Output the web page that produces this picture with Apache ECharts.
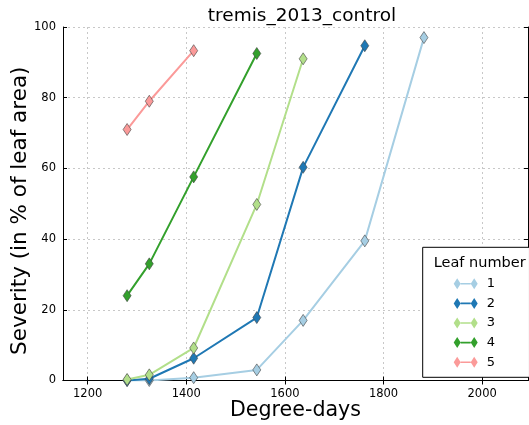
<!DOCTYPE html>
<html><head><meta charset="utf-8">
<script src="https://cdn.jsdelivr.net/npm/echarts@6/dist/echarts.min.js"></script>
<style>html,body{margin:0;padding:0;background:#fff}#c{width:529px;height:425px}</style>
</head><body><div id="c"></div>
<script>
var degreeDays = [1280, 1325, 1415, 1543, 1637, 1762, 1882];
var leaf1 = [0, 0, 0.8, 3, 17, 39.5, 97];
var leaf2 = [0, 0.5, 6.3, 17.8, 60.3, 94.7];
var leaf3 = [0.3, 1.6, 9.2, 49.8, 91];
var leaf4 = [24, 33, 57.6, 92.5];
var leaf5 = [71, 79, 93.3];
var leafNames = ['1', '2', '3', '4', '5'];
var leafColors = ['#a6cee3', '#1f78b4', '#b2df8a', '#33a02c', '#fb9a99'];
var xTicks = [1200, 1400, 1600, 1800, 2000];
var yTicks = [0, 20, 40, 60, 80, 100];

var allLeaves = [leaf1, leaf2, leaf3, leaf4, leaf5];
var FONT = 'DejaVu Sans';
var icon = 'path://M0,5.5L3.5,0L7,5.5L3.5,11ZM7,4.7L17,4.7L17,6.3L7,6.3ZM17,5.5L20.5,0L24,5.5L20.5,11Z';

var series = allLeaves.map(function (vals, i) {
  return {
    name: leafNames[i],
    type: 'line',
    data: vals.map(function (v, j) { return [degreeDays[j], v]; }),
    symbol: 'diamond',
    symbolSize: [8, 12],
    lineStyle: { color: leafColors[i], width: 2 },
    itemStyle: { color: leafColors[i], borderColor: '#444', borderWidth: 0.6 },
    emphasis: { disabled: true },
    animation: false,
    z: 2 + i
  };
});
function noComma(v) { return String(v); }

var chart = echarts.init(document.getElementById('c'), null, { renderer: 'canvas' });
chart.setOption({
  backgroundColor: '#fff',
  animation: false,
  title: [
    { text: 'tremis_2013_control', left: 297, textAlign: 'center', top: 2,
      textStyle: { fontFamily: FONT, fontSize: 18.5, fontWeight: 'normal', color: '#000' } },
    { text: 'Leaf number', left: 474.7, textAlign: 'center', top: 251, z: 10,
      textStyle: { fontFamily: FONT, fontSize: 14.5, fontWeight: 'normal', color: '#000' } }
  ],
  grid: { left: 63, top: 27, right: 1, bottom: 44.5, containLabel: false, outerBoundsMode: 'none' },
  legend: {
    orient: 'vertical', left: 422.7, top: 247.3,
    padding: [30, 34.5, 8.6, 31],
    itemWidth: 24, itemHeight: 11, itemGap: 6.6,
    borderColor: '#000', borderWidth: 1, backgroundColor: '#fff',
    data: leafNames.map(function (n) { return { name: n, icon: icon }; }),
    itemStyle: { borderWidth: 0 },
    textStyle: { fontFamily: FONT, fontSize: 13, color: '#000', padding: [0, 0, 0, 4] },
    selectedMode: false
  },
  xAxis: [{
    type: 'value', min: 1150, max: 2093,
    name: 'Degree-days', nameLocation: 'middle', nameGap: 20, nameMoveOverlap: false,
    nameTextStyle: { fontFamily: FONT, fontSize: 20.6, color: '#000' },
    axisLine: { show: true, lineStyle: { color: '#000', width: 1 } },
    axisTick: { show: true, inside: true, length: 4, customValues: xTicks, lineStyle: { color: '#000' } },
    axisLabel: { customValues: xTicks, formatter: noComma, fontFamily: FONT, fontSize: 11.5, color: '#000', margin: 8 },
    splitLine: { show: true, lineStyle: { color: '#c8c8c8', type: [2, 3], width: 1 } }
  }, {
    type: 'value', min: 1150, max: 2093, position: 'top',
    axisLine: { show: true, lineStyle: { color: '#000', width: 1 } },
    axisTick: { show: true, inside: true, length: 4, customValues: xTicks, lineStyle: { color: '#000' } },
    axisLabel: { show: false, customValues: xTicks },
    splitLine: { show: false }
  }],
  yAxis: [{
    type: 'value', min: 0, max: 100, interval: 20,
    name: 'Severity (in % of leaf area)', nameLocation: 'middle', nameGap: 31.5, nameMoveOverlap: false,
    nameTextStyle: { fontFamily: FONT, fontSize: 21.5, color: '#000', padding: [0, 14, 0, 0] },
    axisLine: { show: true, lineStyle: { color: '#000', width: 1 } },
    axisTick: { show: true, inside: true, length: 4, lineStyle: { color: '#000' } },
    axisLabel: { formatter: noComma, fontFamily: FONT, fontSize: 11.5, color: '#000', margin: 7 },
    splitLine: { show: true, lineStyle: { color: '#c8c8c8', type: [2, 3], width: 1 } }
  }, {
    type: 'value', min: 0, max: 100, interval: 20, position: 'right',
    axisLine: { show: true, lineStyle: { color: '#000', width: 1 } },
    axisTick: { show: true, inside: true, length: 4, lineStyle: { color: '#000' } },
    axisLabel: { show: false },
    splitLine: { show: false }
  }],
  series: series
});
</script></body></html>
